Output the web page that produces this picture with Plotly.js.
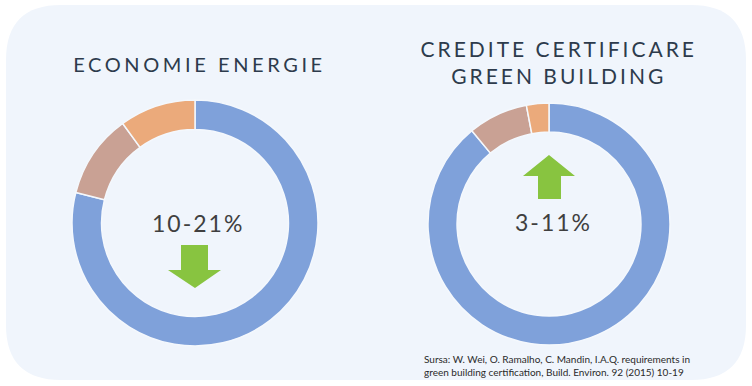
<!DOCTYPE html>
<html>
<head>
<meta charset="utf-8">
<script src="https://cdn.plot.ly/plotly-3.0.1.min.js"></script>
<style>
  html, body { margin: 0; padding: 0; background: #ffffff; }
  #chart { width: 752px; height: 386px; }
  .annotation[data-index="0"] text { letter-spacing: 3.6px; }
  .annotation[data-index="1"] text { letter-spacing: 3px; }
  .annotation[data-index="2"] text, .annotation[data-index="3"] text { letter-spacing: 2px; }
</style>
</head>
<body>
<div id="chart"></div>
<script>
// ---- data ----
const sliceLabels = ['Restul', 'Interval', 'Minim'];
const energyValues = [79, 11, 10];
const creditValues = [89, 8, 3];
const sliceColors = ['#7fa1da', '#c9a194', '#ebaa7b'];
const titleEnergy = 'ECONOMIE ENERGIE';
const titleCredit = 'CREDITE CERTIFICARE<br>GREEN BUILDING';
const labelEnergy = '10-21%';
const labelCredit = '3-11%';
const sourceText = 'Sursa: W. Wei, O. Ramalho, C. Mandin, I.A.Q. requirements in<br>green building certification, Build. Environ. 92 (2015) 10-19';

// ---- layout helpers (pixel -> paper) ----
const W = 752, H = 386;
const px = x => x / W;
const py = y => 1 - y / H;

function roundedRect(x0, y0, x1, y1, r) {
  const p = (x, y) => px(x).toFixed(5) + ',' + py(y).toFixed(5);
  return 'M' + p(x0 + r, y0) + ' L' + p(x1 - r, y0) + ' Q' + p(x1, y0) + ' ' + p(x1, y0 + r) +
    ' L' + p(x1, y1 - r) + ' Q' + p(x1, y1) + ' ' + p(x1 - r, y1) +
    ' L' + p(x0 + r, y1) + ' Q' + p(x0, y1) + ' ' + p(x0, y1 - r) +
    ' L' + p(x0, y0 + r) + ' Q' + p(x0, y0) + ' ' + p(x0 + r, y0) + ' Z';
}
function poly(points) {
  return 'M' + points.map(([x, y]) => px(x).toFixed(5) + ',' + py(y).toFixed(5)).join(' L') + ' Z';
}

const pieCommon = {
  type: 'pie',
  labels: sliceLabels,
  hole: 0.76,
  sort: false,
  direction: 'clockwise',
  rotation: 0,
  textinfo: 'none',
  hoverinfo: 'skip',
  showlegend: false,
  marker: { colors: sliceColors, line: { color: '#f4f8fd', width: 1.5 } }
};

const data = [
  Object.assign({}, pieCommon, {
    values: energyValues,
    domain: { x: [px(72), px(318)], y: [py(346), py(100)] }
  }),
  Object.assign({}, pieCommon, {
    values: creditValues,
    domain: { x: [px(428), px(670)], y: [py(345), py(103)] }
  })
];

const green = '#88c440';
const layout = {
  width: W, height: H,
  margin: { l: 0, r: 0, t: 0, b: 0 },
  paper_bgcolor: '#ffffff',
  plot_bgcolor: 'rgba(0,0,0,0)',
  shapes: [
    { type: 'path', xref: 'paper', yref: 'paper', layer: 'below',
      path: roundedRect(6, 5, 746, 380, 55),
      fillcolor: '#f0f5fc', line: { width: 0 } },
    { type: 'path', xref: 'paper', yref: 'paper', layer: 'above',
      path: poly([[181, 245], [208, 245], [208, 270], [221, 270], [195, 288], [168, 270], [181, 270]]),
      fillcolor: green, line: { width: 0 } },
    { type: 'path', xref: 'paper', yref: 'paper', layer: 'above',
      path: poly([[549, 155], [575, 176], [561, 176], [561, 199], [538, 199], [538, 176], [523, 176]]),
      fillcolor: green, line: { width: 0 } }
  ],
  annotations: [
    { text: titleEnergy, xref: 'paper', yref: 'paper', x: px(199), y: py(64),
      xanchor: 'center', yanchor: 'middle', showarrow: false,
      font: { family: 'Lato, sans-serif', size: 20, color: '#2d3b4c' } },
    { text: titleCredit, xref: 'paper', yref: 'paper', x: px(558), y: py(62),
      xanchor: 'center', yanchor: 'middle', showarrow: false,
      font: { family: 'Lato, sans-serif', size: 21, color: '#2d3b4c' } },
    { text: labelEnergy, xref: 'paper', yref: 'paper', x: px(198), y: py(223),
      xanchor: 'center', yanchor: 'middle', showarrow: false,
      font: { family: 'Lato, sans-serif', size: 23, color: '#3f3f3f' } },
    { text: labelCredit, xref: 'paper', yref: 'paper', x: px(553), y: py(222),
      xanchor: 'center', yanchor: 'middle', showarrow: false,
      font: { family: 'Lato, sans-serif', size: 23, color: '#3f3f3f' } },
    { text: sourceText, xref: 'paper', yref: 'paper', x: px(422), y: py(365),
      xanchor: 'left', yanchor: 'middle', align: 'left', showarrow: false,
      font: { family: 'Lato, sans-serif', size: 10, color: '#2a2a2a' } }
  ]
};

Plotly.newPlot('chart', data, layout, { displayModeBar: false, staticPlot: true });
</script>
</body>
</html>
